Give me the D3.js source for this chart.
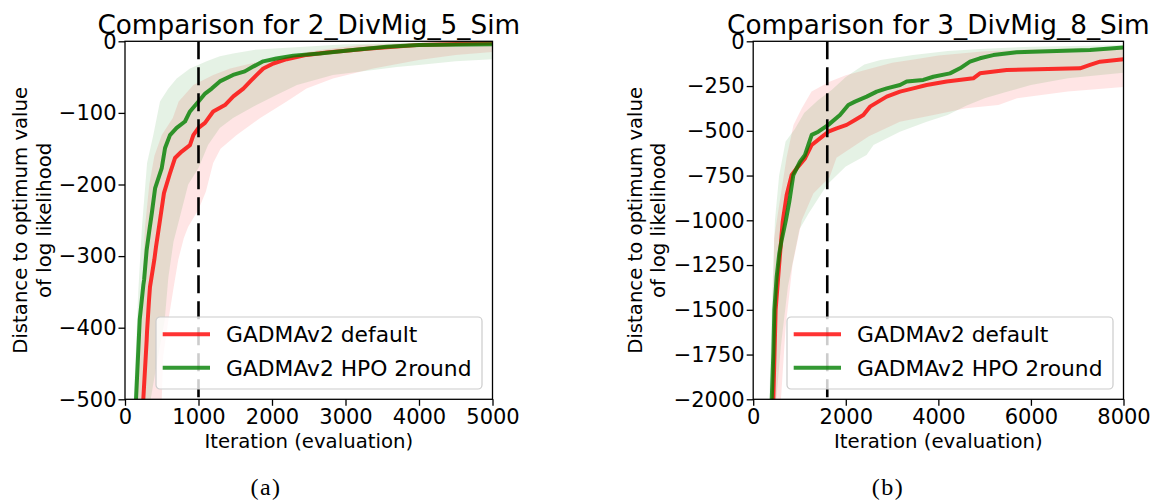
<!doctype html>
<html>
<head>
<meta charset="utf-8">
<title>GADMAv2 comparison</title>
<script src="https://d3js.org/d3.v7.min.js"></script>
<style>
  body { margin: 0; background: #fff; }
  svg { display: block; font-family: "DejaVu Sans", sans-serif; }
  .tick text { font-family: "DejaVu Sans", sans-serif; font-size: 21px; fill: #000; }
  .tick line { stroke: #000; stroke-width: 1.3; }
  .title { font-size: 26.3px; }
  .axlabel { font-size: 19.7px; }
  .legtext { font-size: 21.8px; }
  .caption { font-family: "Liberation Serif", serif; font-size: 24px; letter-spacing: 1.5px; }
</style>
</head>
<body>
<div id="chart"></div>
<script>
// ---- data ----
const seriesNames = ["GADMAv2 default", "GADMAv2 HPO 2round"];
const titles = ["Comparison for 2_DivMig_5_Sim", "Comparison for 3_DivMig_8_Sim"];
const captions = ["(a)", "(b)"];

const leftXTicks = [0, 1000, 2000, 3000, 4000, 5000];
const leftYTicks = [0, -100, -200, -300, -400, -500];
const rightXTicks = [0, 2000, 4000, 6000, 8000];
const rightYTicks = [0, -250, -500, -750, -1000, -1250, -1500, -1750, -2000];

const leftCutoff = 1000;
const rightCutoff = 1600;

// left panel, default run
const leftDefaultMedian = [[200,-700],[249,-500],[295,-417],[300,-405],[327,-361],[340,-343],[399,-305],[422,-287],
  [476,-250],[530,-212],[610,-185],[680,-163],[771,-154],[884,-145],[930,-131],[1000,-121],[1088,-114],[1200,-98],
  [1360,-89],[1474,-77],[1610,-66],[1724,-54],[1792,-47],[1882,-38],[2018,-31],[2200,-25],[2472,-19],[2744,-15.5],
  [3333,-10],[4014,-5],[5000,-2.5]];
const leftDefaultUpper = [[100,-650],[140,-500],[200,-400],[230,-352],[272,-259],[330,-200],[400,-160],[500,-131],
  [650,-107],[730,-84],[930,-61],[1200,-47],[1430,-38],[1840,-28],[2200,-20],[2650,-12],[3200,-5],[4000,-2],[5000,-1]];
const leftDefaultLower = [[430,-650],[500,-500],[520,-440],[590,-390],[660,-345],[725,-305],[800,-275],[860,-259],
  [1000,-235],[1100,-210],[1200,-170],[1300,-150],[1520,-131],[1840,-107],[2200,-84],[2470,-66],[2830,-52],
  [3380,-38],[4000,-26],[4500,-19],[5000,-15]];

// left panel, HPO run
const leftHpoMedian = [[100,-700],[150,-500],[200,-389],[250,-340],[260,-333],[295,-291],[330,-265],[365,-240],
  [410,-205],[500,-177],[545,-149],[612,-131],[703,-121],[816,-112],[884,-98],[1000,-84],[1090,-73],[1180,-66],
  [1290,-56],[1470,-47],[1630,-42],[1750,-35],[1880,-28],[2060,-24],[2290,-20],[2650,-17],[3100,-12],[3560,-7.5],
  [4000,-5],[5000,-4]];
const leftHpoUpper = [[60,-650],[120,-500],[180,-350],[230,-260],[300,-170],[385,-131],[476,-84],[590,-66],[703,-52],
  [884,-38],[1110,-28],[1290,-21],[1470,-17],[1750,-12],[2200,-9],[3000,-4],[4000,-2],[5000,-1]];
const leftHpoLower = [[280,-650],[350,-500],[450,-440],[540,-390],[590,-330],[660,-280],[760,-240],[860,-200],
  [1000,-177],[1130,-145],[1290,-121],[1470,-107],[1750,-91],[2060,-75],[2340,-61],[2830,-47],[3380,-40],
  [3700,-36],[4000,-33],[4500,-28],[5000,-25]];

// right panel, default run
const rightDefaultMedian = [[420,-2300],[435,-2000],[485,-1500],[560,-1250],[637,-1008],[723,-859],[831,-747],
  [939,-710],[1119,-654],[1264,-579],[1443,-542],[1623,-505],[1803,-486],[2019,-467],[2199,-440],[2379,-412],
  [2523,-365],[2703,-337],[2884,-309],[3171,-281],[3459,-263],[3747,-244],[4180,-225],[4755,-207],[4899,-179],
  [5476,-160],[7060,-151],[7276,-132],[7492,-114],[8000,-100]];
const rightDefaultUpper = [[380,-2300],[400,-2000],[430,-1500],[450,-1100],[600,-850],[720,-650],[870,-467],
  [1050,-374],[1260,-281],[1660,-225],[2000,-190],[2500,-155],[3000,-120],[3500,-100],[4000,-80],[5000,-56],
  [6000,-45],[8000,-35]];
const rightDefaultLower = [[560,-2300],[600,-2000],[700,-1600],[850,-1250],[1050,-1000],[1300,-850],[1650,-760],
  [1800,-650],[2500,-530],[3170,-450],[3900,-412],[4600,-374],[5300,-356],[5700,-318],[6800,-281],[8000,-255]];

// right panel, HPO run
const rightHpoMedian = [[380,-2300],[400,-2004],[435,-1743],[457,-1501],[507,-1315],[564,-1184],[615,-1110],
  [708,-998],[780,-896],[867,-747],[1011,-673],[1119,-635],[1191,-579],[1264,-523],[1407,-505],[1623,-467],
  [1875,-412],[2055,-356],[2199,-337],[2452,-309],[2668,-281],[2884,-263],[3171,-244],[3316,-225],[3675,-216],
  [3891,-198],[4251,-179],[4467,-151],[4683,-114],[4899,-95],[5187,-77],[5692,-61],[6557,-54],[7276,-49],[8000,-35]];
const rightHpoUpper = [[330,-2300],[350,-2000],[400,-1500],[470,-1000],[560,-750],[700,-560],[900,-490],
  [1100,-400],[1400,-330],[1700,-270],[2000,-200],[2400,-130],[2750,-104],[3450,-77],[4200,-54],[4900,-43],
  [6000,-30],[8000,-20]];
const rightHpoLower = [[470,-2300],[500,-2000],[600,-1700],[750,-1370],[1000,-1050],[1200,-960],[1600,-800],
  [2000,-700],[2450,-635],[2600,-579],[3170,-505],[3750,-449],[4200,-412],[4600,-360],[5000,-318],[5500,-281],
  [6000,-244],[6800,-207],[8000,-175]];

// ---- layout ----
const w = 1151;
const h = 504;
const plotTop = 41.3;
const plotBottom = 399.3;

const lineColors = ["rgba(255,0,0,0.8)", "rgba(0,128,0,0.8)"];
const bandColors = ["rgba(255,0,0,0.1)", "rgba(0,128,0,0.1)"];

const panels = [
  { left: 125, right: 492.5, xMax: 5000, yMin: -500, xTicks: leftXTicks, yTicks: leftYTicks, cutoff: leftCutoff,
    title: titles[0], caption: captions[0], captionX: 266, labelShift: 0,
    series: [
      { median: leftDefaultMedian, upper: leftDefaultUpper, lower: leftDefaultLower },
      { median: leftHpoMedian, upper: leftHpoUpper, lower: leftHpoLower }
    ] },
  { left: 753.2, right: 1123.5, xMax: 8000, yMin: -2000, xTicks: rightXTicks, yTicks: rightYTicks, cutoff: rightCutoff,
    title: titles[1], caption: captions[1], captionX: 888, labelShift: 13.4,
    series: [
      { median: rightDefaultMedian, upper: rightDefaultUpper, lower: rightDefaultLower },
      { median: rightHpoMedian, upper: rightHpoUpper, lower: rightHpoLower }
    ] }
];

const fmt = d3.format("d");

const svg = d3.select("#chart")
  .append("svg")
  .attr("width", w)
  .attr("height", h);

panels.forEach(function (p, i) {
  const xScale = d3.scaleLinear().domain([0, p.xMax]).range([p.left, p.right]);
  const yScale = d3.scaleLinear().domain([p.yMin, 0]).range([plotBottom, plotTop]);
  const cx = (p.left + p.right) / 2;
  const cy = (plotTop + plotBottom) / 2;

  const clipId = "clip" + i;
  svg.append("clipPath").attr("id", clipId)
    .append("rect")
    .attr("x", p.left).attr("y", plotTop)
    .attr("width", p.right - p.left).attr("height", plotBottom - plotTop);

  const plot = svg.append("g").attr("clip-path", "url(#" + clipId + ")");

  const line = d3.line()
    .x(function (d) { return xScale(d[0]); })
    .y(function (d) { return yScale(d[1]); });

  // shaded ranges first
  p.series.forEach(function (s, k) {
    const outline = s.upper.concat(s.lower.slice().reverse());
    plot.append("path")
      .attr("d", line(outline) + "Z")
      .attr("fill", bandColors[k])
      .attr("stroke", "none");
  });

  p.series.forEach(function (s, k) {
    plot.append("path")
      .attr("d", line(s.median))
      .attr("fill", "none")
      .attr("stroke", lineColors[k])
      .attr("stroke-width", 4)
      .attr("stroke-linejoin", "round");
  });

  // budget marker
  plot.append("line")
    .attr("x1", xScale(p.cutoff)).attr("x2", xScale(p.cutoff))
    .attr("y1", yScale(0)).attr("y2", yScale(p.yMin))
    .attr("stroke", "#000")
    .attr("stroke-width", 2.6)
    .attr("stroke-dasharray", "18,8");

  // axes
  const xAxis = d3.axisBottom(xScale).tickValues(p.xTicks).tickFormat(fmt)
    .tickSize(6.5).tickPadding(3).tickSizeOuter(0);
  const yAxis = d3.axisLeft(yScale).tickValues(p.yTicks).tickFormat(fmt)
    .tickSize(6.5).tickPadding(2).tickSizeOuter(0);

  const gx = svg.append("g")
    .attr("transform", "translate(0," + plotBottom + ")")
    .call(xAxis);
  gx.select(".domain").remove();
  gx.attr("font-size", null).attr("font-family", null);

  const gy = svg.append("g")
    .attr("transform", "translate(" + p.left + ",0)")
    .call(yAxis);
  gy.select(".domain").remove();
  gy.attr("font-size", null).attr("font-family", null);

  svg.append("rect")
    .attr("x", p.left).attr("y", plotTop)
    .attr("width", p.right - p.left).attr("height", plotBottom - plotTop)
    .attr("fill", "none")
    .attr("stroke", "#000")
    .attr("stroke-width", 1.3);

  // texts
  svg.append("text")
    .attr("class", "title")
    .attr("x", cx).attr("y", 33.5)
    .attr("text-anchor", "middle")
    .text(p.title);

  svg.append("text")
    .attr("class", "axlabel")
    .attr("x", cx).attr("y", 447.7)
    .attr("text-anchor", "middle")
    .text("Iteration (evaluation)");

  const yLines = ["Distance to optimum value", "of log likelihood"];
  yLines.forEach(function (t, j) {
    svg.append("text")
      .attr("class", "axlabel")
      .attr("text-anchor", "middle")
      .attr("transform", "translate(" + (p.left - 98 - p.labelShift + j * 23.5) + "," + cy + ") rotate(-90)")
      .text(t);
  });

  svg.append("text")
    .attr("class", "caption")
    .attr("x", p.captionX).attr("y", 495)
    .attr("text-anchor", "middle")
    .text(p.caption);

  // legend
  const legW = 326;
  const legH = 72;
  const lx = p.right - 10.5 - legW;
  const ly = plotBottom - 10.3 - legH;
  const legend = svg.append("g").attr("transform", "translate(" + lx + "," + ly + ")");
  legend.append("rect")
    .attr("width", legW).attr("height", legH)
    .attr("rx", 4).attr("ry", 4)
    .attr("fill", "#fff").attr("fill-opacity", 0.8)
    .attr("stroke", "#cccccc").attr("stroke-width", 1.2);

  seriesNames.forEach(function (name, k) {
    const ry = 17.3 + k * 33.4;
    legend.append("line")
      .attr("x1", 6.7).attr("x2", 54)
      .attr("y1", ry).attr("y2", ry)
      .attr("stroke", lineColors[k])
      .attr("stroke-width", 4);
    legend.append("text")
      .attr("class", "legtext")
      .attr("x", 70).attr("y", ry + 7.8)
      .text(name);
  });
});
</script>
</body>
</html>
